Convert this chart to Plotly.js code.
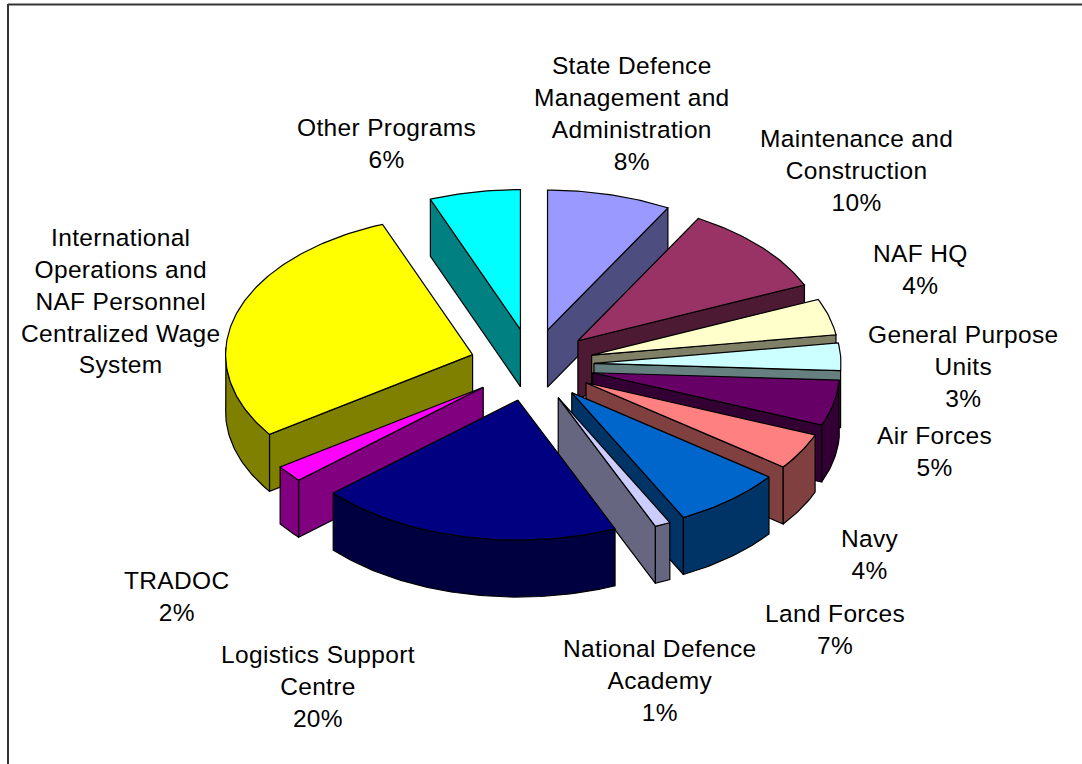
<!DOCTYPE html>
<html>
<head>
<meta charset="utf-8">
<script src="https://cdn.plot.ly/plotly-3.0.1.min.js"></script>
<style>
  html, body { margin: 0; padding: 0; background: #fff; }
  #chart { width: 1082px; height: 764px; }
  .annotation-text { letter-spacing: 0.35px; }
</style>
</head>
<body>
<div id="chart"></div>
<script>
// Budget shares by programme, clockwise from twelve o'clock
const categories = [
  "State Defence<br>Management and<br>Administration",
  "Maintenance and<br>Construction",
  "NAF HQ",
  "General Purpose<br>Units",
  "Air Forces",
  "Navy",
  "Land Forces",
  "National Defence<br>Academy",
  "Logistics Support<br>Centre",
  "TRADOC",
  "International<br>Operations and<br>NAF Personnel<br>Centralized Wage<br>System",
  "Other Programs"
];
const values = [8, 10, 4, 3, 5, 4, 7, 1, 20, 2, 30, 6];
const showPercent = [true, true, true, true, true, true, true, true, true, true, false, true];
const topColors = ["#9999FF", "#993366", "#FFFFCC", "#CCFFFF", "#660066", "#FF8080",
                   "#0066CC", "#CCCCFF", "#000080", "#FF00FF", "#FFFF00", "#00FFFF"];
const sideColors = ["#4D4D80", "#4D1A33", "#808066", "#668080", "#330033", "#804040",
                    "#003366", "#666680", "#000040", "#800080", "#808000", "#008080"];
const labelCenterX = [632, 856, 920, 963, 934, 870, 835, 660, 318, 177, 120, 386];
const labelCenterY = [113, 170, 269, 366, 451, 554, 629, 680, 686, 596, 301, 143];

// Projection of the tilted pie onto the page; the skew term leans the
// front of the disc clockwise, the way a perspective view does
const pie = { cx: 532, cy: 365, rx: 247, ry: 140, depth: 57, pullX: 62, pullY: 36, skew: 6 };
const DEG = Math.PI / 180;
const total = values.reduce((s, v) => s + v, 0);

const skewed = t => t + pie.skew * DEG * Math.pow(Math.sin(t / 2), 2);

function project(theta, r, mid) {
  const m = skewed(mid), t = skewed(theta);
  return [pie.cx + pie.pullX * Math.sin(m) + pie.rx * r * Math.sin(t),
          pie.cy - pie.pullY * Math.cos(m) - pie.ry * r * Math.cos(t)];
}

function arcPoints(from, to, mid) {
  const n = Math.max(2, Math.ceil((to - from) / DEG));
  const pts = [];
  for (let i = 0; i <= n; i++) pts.push(project(from + (to - from) * i / n, 1, mid));
  return pts;
}

function face(points, color, name) {
  return {
    type: "scatter", mode: "lines", fill: "toself", fillcolor: color, name: name,
    x: points.map(p => p[0]).concat(points[0][0]),
    y: points.map(p => p[1]).concat(points[0][1]),
    line: { color: "#000", width: 1.2 }, hoverinfo: "name", showlegend: false
  };
}

const down = p => [p[0], p[1] + pie.depth];

// Cumulative slice angles
let running = 0;
const slices = values.map((v, i) => {
  const a0 = running / total * 2 * Math.PI;
  running += v;
  const a1 = running / total * 2 * Math.PI;
  return { i, a0, a1, mid: (a0 + a1) / 2 };
});

// Painter's order: slices furthest from the viewer go first
const traces = [];
slices.slice().sort((p, q) => Math.cos(q.mid) - Math.cos(p.mid)).forEach(s => {
  const side = sideColors[s.i], top = topColors[s.i], name = categories[s.i].replace(/<br>/g, " ");
  const apex = project(0, 0, s.mid);
  if (Math.sin(s.a0) < 0) {
    const e = project(s.a0, 1, s.mid);
    traces.push(face([apex, e, down(e), down(apex)], side, name));
  }
  if (Math.sin(s.a1) > 0) {
    const e = project(s.a1, 1, s.mid);
    traces.push(face([apex, e, down(e), down(apex)], side, name));
  }
  const r0 = Math.max(s.a0, Math.PI / 2), r1 = Math.min(s.a1, 1.5 * Math.PI);
  if (r1 > r0) {
    const rim = arcPoints(r0, r1, s.mid);
    traces.push(face(rim.concat(rim.slice().reverse().map(down)), side, name));
  }
  traces.push(face([apex].concat(arcPoints(s.a0, s.a1, s.mid)), top, name));
});

const annotations = categories.map((c, i) => ({
  x: labelCenterX[i], y: labelCenterY[i], xref: "x", yref: "y", showarrow: false,
  align: "center", xanchor: "center", yanchor: "middle",
  text: showPercent[i] ? c + "<br>" + values[i] + "%" : c
}));

const layout = {
  width: 1082, height: 764, margin: { l: 0, r: 0, t: 0, b: 0 },
  paper_bgcolor: "#fff", plot_bgcolor: "#fff", showlegend: false,
  font: { family: "Liberation Sans, Arial, sans-serif", size: 24.5, color: "#000" },
  xaxis: { range: [0, 1082], visible: false, fixedrange: true },
  yaxis: { range: [764, 0], visible: false, fixedrange: true },
  annotations: annotations,
  shapes: [
    { type: "line", xref: "x", yref: "y", x0: 8, y0: 4.5, x1: 1082, y1: 4.5, line: { color: "#333", width: 2 } },
    { type: "line", xref: "x", yref: "y", x0: 8, y0: 4, x1: 8, y1: 764, line: { color: "#333", width: 2 } }
  ]
};

Plotly.newPlot("chart", traces, layout, { displayModeBar: false, staticPlot: true });
</script>
</body>
</html>
